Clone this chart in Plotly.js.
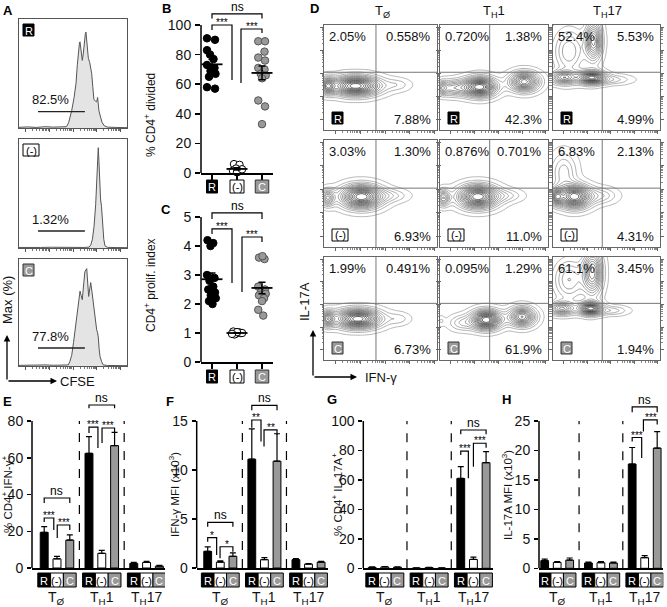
<!DOCTYPE html>
<html><head><meta charset="utf-8">
<script src="https://cdn.plot.ly/plotly-3.0.1.min.js"></script>
<style>html,body{margin:0;padding:0;background:#fff}#chart{width:667px;height:607px}</style>
</head><body><div id="chart"></div>
<script>
// ================= DATA =================
// Panel A: CFSE histograms (x: channel position across plot, y: % of max)
const histR_x = [0,8,16,24,32,40,44,46,48.8,51,52.8,54,54.9,56,56.5,57.5,58.6,59.5,60.5,61.5,62,63,64.2,65.5,66.5,67.3,68.3,69.4,70.5,71.9,72.8,73.2,74,75.5,77,79,82,90,100];
const histR_y = [0.6,1.0,0.5,1.2,0.8,1.0,1.2,5,16,28,41,58,70,78,79,70,62,68,80,87,88,75,64,60,55,50,38,26,25,24,28,20,16,10,5,2,0.8,0.5,0.3];
const histN_x = [0,10,20,30,40,50,60,65,66.5,68,69.5,71,72,72.8,73.4,74,74.8,75.5,76.4,77.5,78.5,79.6,82,90,100];
const histN_y = [0.5,0.8,0.5,0.7,0.5,0.6,0.5,0.8,3,8,20,40,62,82,92,80,56,45,38,20,8,2,0.6,0.4,0.3];
const histC_x = [0,8,16,24,32,40,45.6,47,48.8,50.5,51.9,54,55.5,56.5,57.5,58.6,60,61,62.7,63.7,64.5,65.5,66.4,67.5,68.8,70.3,71.9,72.8,73.4,74.2,75,76.5,78,82,90,100];
const histC_y = [0.6,0.9,0.5,1.0,0.7,0.9,1,4,10,22,34,52,64,70,66,62,78,88,91,80,65,72,78,70,59,45,34,31,27,16,9,4,1,0.5,0.4,0.3];
const histPct = ['82.5%','1.32%','77.8%'];
const condTags = ['R','(-)','C'];

// Panel B: % CD4+ divided (individual points, with horizontal jitter)
const bR = [91,90,83,80,77,73,71,69,67,65,58,57];
const bRoff = [-0.2,0.12,-0.2,-0.08,0.06,-0.2,0.1,-0.06,0.14,-0.12,-0.2,0.12];
const bN = [6,5.5,3,2,1.5,1,0.5,2.5];
const bNoff = [-0.12,0.1,-0.04,0.14,-0.16,0.06,0,0.2];
const bC = [89,89,82,78,76,71,70,67,66,64,49,45,33];
const bCoff = [-0.15,0.12,0.1,-0.15,0.12,-0.15,0.1,-0.05,0.15,0,-0.15,0.12,0];

// Panel C: CD4+ proliferation index
const cR = [4.2,4.1,4.0,3.0,2.9,2.8,2.6,2.5,2.4,2.3,2.2,2.1,2.0];
const cRoff = [-0.18,0.05,-0.06,-0.2,0.1,-0.1,0.05,-0.15,0.12,-0.05,0.15,-0.12,0.02];
const cN = [1.05,1.0,0.98,1.02,0.95,1.0,1.03,0.97];
const cNoff = [-0.15,0.15,-0.05,0.08,-0.1,0.2,0,-0.2];
const cC = [3.6,3.55,3.65,2.6,2.5,2.4,2.35,2.3,2.2,2.1,1.8,1.6];
const cCoff = [-0.12,0.1,0.02,-0.15,0.12,-0.05,0.15,-0.12,0.08,0,-0.15,0.05];

// Panel D: flow contour plots; density blobs [cx, cy, sx, sy, weight]
const dCols = ['T<sub>Ø</sub>','T<sub>H</sub>1','T<sub>H</sub>17'];
const dPctTL = [['2.05%','0.720%','52.4%'],['3.03%','0.876%','6.83%'],['1.99%','0.095%','61.1%']];
const dPctTR = [['0.558%','1.38%','5.53%'],['1.30%','0.701%','2.13%'],['0.491%','1.29%','3.45%']];
const dPctBR = [['7.88%','42.3%','4.99%'],['6.93%','11.0%','4.31%'],['6.73%','61.9%','1.94%']];
const dBlobs = [
  [ [[28,42,14,6,1.0],[3,42,4,5,0.6],[65,43,8,4,0.12]],
    [[37,41,10,6,1.0],[78,46,9,6,0.8],[12,40,10,5,0.4],[2,40,3,4,0.3]],
    [[38,85,5,12,0.7],[36,50,8,4,1.0],[10,50,8,4,0.6],[15,75,10,15,0.35],[55,48,12,3,0.2]] ],
  [ [[33,47,12,7,1.0],[3,46,4,5,0.5],[60,48,10,4,0.15]],
    [[35,47,12,7,1.0],[3,46,4,5,0.5],[62,48,10,4,0.15]],
    [[20,47,10,7,1.0],[3,47,4,5,0.6],[10,70,8,12,0.25],[45,48,10,5,0.2]] ],
  [ [[30,40,13,6,1.0],[3,40,4,5,0.6],[66,40,7,4,0.12]],
    [[43,39,9,6,1.0],[76,42,8,6,0.75],[20,36,8,5,0.2],[1,38,2,3,0.1]],
    [[37,85,6,14,0.7],[35,50,7,4,1.0],[8,50,8,4,0.6],[15,78,10,14,0.35],[55,48,10,3,0.2]] ]
];

// Panels E-H: bar means and SEM, order T0(R,(-),C), TH1(R,(-),C), TH17(R,(-),C)
const eMean = [19.4,5.0,15.2, 62.4,8.0,66.6, 2.5,3.0,1.0];
const eErr  = [3.1,1.3,2.8, 9.1,1.6,7.2, 0.6,0.6,0.4];
const fMean = [1.7,0.6,1.2, 11.1,0.85,10.9, 0.85,0.4,0.6];
const fErr  = [0.45,0.12,0.35, 3.1,0.2,2.8, 0.12,0.06,0.08];
const gMean = [0.6,0.9,0.7, 0.2,0.5,0.15, 61,6,71.7];
const gErr  = [0.3,0.3,0.3, 0.1,0.2,0.1, 8,1.6,7.5];
const hMean = [1.3,1.0,1.4, 0.9,0.95,0.9, 17.7,1.8,20.4];
const hErr  = [0.25,0.15,0.35, 0.15,0.2,0.15, 2.8,0.35,2.8];
const groupLabels = ['T<sub>Ø</sub>','T<sub>H</sub>1','T<sub>H</sub>17'];

// ================= LAYOUT HELPERS =================
const W = 667, H = 607;
const FONT = 'Liberation Sans, Arial, sans-serif';
const traces = [];
const layout = {width:W, height:H, margin:{l:0,r:0,t:0,b:0}, paper_bgcolor:'#fff', plot_bgcolor:'rgba(0,0,0,0)',
  showlegend:false, font:{family:FONT, size:13, color:'#111'}, shapes:[], annotations:[]};
let axN = 0;
function addAxes(xd, yd, xo, yo){
  axN++;
  const s = axN===1 ? '' : String(axN);
  const xid = 'x'+s, yid = 'y'+s;
  layout['xaxis'+s] = Object.assign({domain:[xd[0]/W, xd[1]/W], anchor:yid, showgrid:false, zeroline:false, fixedrange:true, showticklabels:false, ticks:''}, xo);
  layout['yaxis'+s] = Object.assign({domain:[1-yd[1]/H, 1-yd[0]/H], anchor:xid, showgrid:false, zeroline:false, fixedrange:true, showticklabels:false, ticks:''}, yo);
  return {x:xid, y:yid};
}
function pann(px, py, text, o){
  layout.annotations.push(Object.assign({x:px/W, y:1-py/H, xref:'paper', yref:'paper', text:text, showarrow:false,
    font:{size:13, color:'#111', family:FONT}, xanchor:'center', yanchor:'middle'}, o||{}));
}
function prect(x0,y0,x1,y1,fill,lc){
  layout.shapes.push({type:'rect', xref:'paper', yref:'paper', x0:x0/W, x1:x1/W, y0:1-y1/H, y1:1-y0/H, fillcolor:fill, line:{color:lc||'#000', width:1}});
}
const tagFill = ['#000','#fff','#999'], tagText = ['#fff','#000','#fff'], tagLine = ['#000','#000','#333'];
function tag(x0, y0, k){
  const w = k===1 ? 16 : 11, h = 12;
  prect(x0, y0, x0+w, y0+h, tagFill[k], tagLine[k]);
  pann(x0+w/2, y0+h/2+0.5, condTags[k], {font:{size:11, color:tagText[k], family:FONT}});
}
function logTicks(start, width, maxv){
  const maj=[], min=[];
  for(let d=0; d<6; d++) for(let k=1; k<10; k++){
    const v = start + width*(d+Math.log10(k));
    if(v>maxv-0.5 || v<0.5) continue;
    (k===1?maj:min).push(v);
  }
  return {maj, min};
}
function bracket(ax, pts, label, lx, ly){
  layout.shapes.push({type:'path', xref:ax.x, yref:ax.y, path:'M '+pts.map(p=>p[0]+','+p[1]).join(' L '), line:{color:'#000', width:1.2}});
  const star = label !== 'ns';
  layout.annotations.push({xref:ax.x, yref:ax.y, x:lx, y:ly, text:label, showarrow:false, xanchor:'center', yanchor:'bottom',
    yshift: star ? -5 : -2, font:{size: star ? 10 : 12, color:'#000', family:FONT}});
}
function meanSem(a){
  const n=a.length, m=a.reduce((s,v)=>s+v,0)/n;
  const sd=Math.sqrt(a.reduce((s,v)=>s+(v-m)*(v-m),0)/(n-1));
  return [m, sd/Math.sqrt(n)];
}

// ================= PANEL A =================
const aTops=[19,139,259], aBots=[128,248,366];
const aX=[histR_x,histN_x,histC_x], aY=[histR_y,histN_y,histC_y];
const aGate=[15,15.6,16.8];
const aTk = logTicks(6, 22, 100);
for(let i=0;i<3;i++){
  const ax = addAxes([19,127],[aTops[i],aBots[i]],
    {range:[0,100], showline:true, mirror:true, linecolor:'#555', linewidth:1, ticks:'outside', ticklen:3, tickcolor:'#555', tickwidth:1,
     tickvals:aTk.maj, minor:{tickmode:'array', tickvals:aTk.min, ticks:'outside', ticklen:1.5, tickcolor:'#777'}},
    {range:[0,100], showline:true, mirror:true, linecolor:'#555', linewidth:1});
  traces.push({type:'scatter', mode:'lines', x:aX[i], y:aY[i], fill:'tozeroy', fillcolor:'#e4e4e4',
    line:{color:'#555', width:1}, xaxis:ax.x, yaxis:ax.y, hoverinfo:'skip'});
  layout.shapes.push({type:'line', xref:ax.x, yref:ax.y, x0:17.6, x1:61, y0:aGate[i], y1:aGate[i], line:{color:'#222', width:1.3}});
  layout.annotations.push({xref:ax.x, yref:ax.y, x:10, y:aGate[i]+2, text:histPct[i], showarrow:false, xanchor:'left', yanchor:'bottom',
    font:{size:13, color:'#111', family:FONT}});
  tag(23, aTops[i]+5, i);
}
pann(7.5, 10, '<b>A</b>', {font:{size:13, family:FONT, color:'#000'}});
pann(7, 300, 'Max (%)', {textangle:-90, font:{size:13, family:FONT, color:'#111'}});
pann(77, 381, 'CFSE', {font:{size:13, family:FONT, color:'#111'}});
layout.annotations.push({x:7/W, y:1-335/H, xref:'paper', yref:'paper', text:'', showarrow:true, ax:0, ay:46, arrowhead:2, arrowsize:1, arrowwidth:1.3, arrowcolor:'#000'});
layout.annotations.push({x:57/W, y:1-381/H, xref:'paper', yref:'paper', text:'', showarrow:true, ax:-50, ay:0, arrowhead:2, arrowsize:1, arrowwidth:1.3, arrowcolor:'#000'});

// ================= PANELS B, C =================
const ptMarker = [
  {color:'#000', size:7.5, line:{color:'#000', width:1}},
  {color:'#fff', size:7.5, line:{color:'#000', width:1}},
  {color:'#999', size:7.5, line:{color:'#555', width:1}}];
function dotPanel(zeroPx, topPx, topVal, extPx, tickv, groups, offs, boxTop, title, titleY){
  const per = (zeroPx-topPx)/topVal;
  const ax = addAxes([201,273],[extPx, zeroPx],
    {range:[-0.44,2.44], showline:true, linecolor:'#000', linewidth:1.5, ticks:'outside', ticklen:5, tickwidth:1.5, tickcolor:'#000', tickvals:[0,1,2]},
    {range:[0,(zeroPx-extPx)/per], ticks:'outside', ticklen:5, tickwidth:1.5, tickcolor:'#000', tickvals:tickv, showticklabels:true,
     tickfont:{size:14, family:FONT, color:'#111'}, ticklabelstandoff:1});
  layout.shapes.push({type:'line', xref:'paper', yref:ax.y, x0:201/W, x1:201/W, y0:0, y1:topVal, line:{color:'#000', width:1.5}});
  for(let g=0; g<3; g++){
    traces.push({type:'scatter', mode:'markers', x:groups[g].map((v,j)=>g+offs[g][j]), y:groups[g], marker:ptMarker[g],
      xaxis:ax.x, yaxis:ax.y, hoverinfo:'skip', cliponaxis:false});
  }
  for(let g=0; g<3; g++){
    const ms = meanSem(groups[g]);
    traces.push({type:'scatter', mode:'markers', x:[g], y:[ms[0]], marker:{symbol:'line-ew', size:15, line:{width:1.8, color:'#000'}},
      error_y:{type:'data', array:[ms[1]], color:'#000', thickness:1.5, width:3.5}, xaxis:ax.x, yaxis:ax.y, hoverinfo:'skip', cliponaxis:false});
  }
  const hw=[0.22,0.28,0.27];
  for(let g=0; g<3; g++){
    layout.shapes.push({type:'rect', xref:ax.x, yref:'paper', x0:g-hw[g], x1:g+hw[g], y0:1-(boxTop+13)/H, y1:1-boxTop/H,
      fillcolor:tagFill[g], line:{color:tagLine[g], width:1}});
    layout.annotations.push({xref:ax.x, yref:'paper', x:g, y:1-(boxTop+7)/H, text:condTags[g], showarrow:false,
      font:{size:11, color:tagText[g], family:FONT}, xanchor:'center', yanchor:'middle'});
  }
  pann(150, titleY, title, {textangle:-90, font:{size:12, family:FONT, color:'#111'}});
  return ax;
}
const axB = dotPanel(173, 25, 100, 2, [0,20,40,60,80,100], [bR,bN,bC], [bRoff,bNoff,bCoff], 180, '% CD4<sup>+</sup> divided', 115);
bracket(axB, [[0,104.4],[0,107.5],[2,107.5],[2,104.4]], 'ns', 1, 107.5);
bracket(axB, [[0,96.6],[0,100],[0.8,100],[0.8,62.8]], '***', 0.4, 100);
bracket(axB, [[1.16,60.8],[1.16,97.3],[2,97.3],[2,94.6]], '***', 1.58, 97.3);
const axC = dotPanel(362, 217, 5, 198, [0,1,2,3,4,5], [cR,cN,cC], [cRoff,cNoff,cCoff], 370, 'CD4<sup>+</sup> prolif. index', 285);
bracket(axC, [[0,4.93],[0,5.14],[2,5.14],[2,4.93]], 'ns', 1, 5.14);
bracket(axC, [[0,4.41],[0,4.59],[0.8,4.59],[0.8,2.72]], '***', 0.4, 4.59);
bracket(axC, [[1.2,2.41],[1.2,4.31],[2,4.31],[2,4.14]], '***', 1.6, 4.31);
pann(166, 9, '<b>B</b>', {font:{size:13, family:FONT, color:'#000'}});
pann(166, 209, '<b>C</b>', {font:{size:13, family:FONT, color:'#000'}});

// ================= PANEL D =================
const dX = [[324,437],[440,548],[553,660]];
const dY = [[25,130],[140,247],[257,360]];
const dTk = logTicks(10, 22, 100);
const grid = []; for(let i=0;i<=50;i++) grid.push(i*2);
function density(blobs){
  let mx = 0;
  const z = grid.map(yv => grid.map(xv => {
    let v = 0;
    for(const b of blobs){ const dx=(xv-b[0])/b[2], dy=(yv-b[1])/b[3]; v += b[4]*Math.exp(-0.5*(dx*dx+dy*dy)); }
    if(v>mx) mx=v; return v;
  }));
  return z.map(r => r.map(v => v/mx));
}
for(let r=0;r<3;r++) for(let c=0;c<3;c++){
  const [x0,x1] = dX[c], [y0,y1] = dY[r];
  const tickAx = {range:[0,100], showline:true, linecolor:'#666', linewidth:1, ticks:'outside', ticklen:3, tickcolor:'#666',
    tickvals:dTk.maj, minor:{tickmode:'array', tickvals:dTk.min, ticks:'outside', ticklen:1.5, tickcolor:'#888'}};
  const ax = addAxes([x0,x1],[y0,y1], Object.assign({mirror:true}, tickAx), Object.assign({mirror:'allticks'}, tickAx));
  traces.push({type:'contour', x:grid, y:grid, z:density(dBlobs[r][c]), xaxis:ax.x, yaxis:ax.y, showscale:false, hoverinfo:'skip',
    contours:{coloring:'lines', start:0.03, end:0.97, size:0.06}, line:{width:0.7, smoothing:1},
    colorscale:[[0,'#9a9a9a'],[0.5,'#5a5a5a'],[1,'#222']]});
  layout.shapes.push({type:'line', xref:ax.x, yref:ax.y, x0:46, x1:46, y0:0, y1:100, line:{color:'#777', width:1}});
  layout.shapes.push({type:'line', xref:ax.x, yref:ax.y, x0:0, x1:100, y0:55, y1:55, line:{color:'#777', width:1}});
  pann(x0+3, y0+2, dPctTL[r][c], {xanchor:'left', yanchor:'top'});
  pann(x1-4, y0+2, dPctTR[r][c], {xanchor:'right', yanchor:'top'});
  pann(x1-4, y1-1, dPctBR[r][c], {xanchor:'right', yanchor:'bottom'});
  tag(x0+8, y1-18, r);
}
pann(382, 11, dCols[0], {font:{size:13, family:FONT, color:'#111'}});
pann(494, 12, dCols[1], {font:{size:13, family:FONT, color:'#111'}});
pann(607, 12, dCols[2], {font:{size:13, family:FONT, color:'#111'}});
pann(314, 9, '<b>D</b>', {font:{size:13, family:FONT, color:'#000'}});
pann(305, 302, 'IL-17A', {textangle:-90, font:{size:13, family:FONT, color:'#111'}});
pann(381, 377, 'IFN-γ', {font:{size:13, family:FONT, color:'#111'}});
layout.annotations.push({x:313/W, y:1-330/H, xref:'paper', yref:'paper', text:'', showarrow:true, ax:0, ay:47, arrowhead:2, arrowsize:1, arrowwidth:1.3, arrowcolor:'#000'});
layout.annotations.push({x:357/W, y:1-377/H, xref:'paper', yref:'paper', text:'', showarrow:true, ax:-44, ay:0, arrowhead:2, arrowsize:1, arrowwidth:1.3, arrowcolor:'#000'});

// ================= PANELS E-H =================
const barPos = [0,1,2,3.5,4.5,5.5,7,8,9];
const groupBase = [0,3.5,7];
const barFill = ['#000','#fff','#999','#000','#fff','#999','#000','#fff','#999'];
function barPanel(p){
  const per = (p.zeroPx-421)/p.topVal;
  const ax = addAxes(p.xd, [393, p.zeroPx],
    {range:p.rx, showline:true, linecolor:'#000', linewidth:1.5},
    {range:[0,(p.zeroPx-393)/per], ticks:'outside', ticklen:4, tickwidth:1.5, tickcolor:'#000', tickvals:p.ticks, showticklabels:true,
     tickfont:{size:14, family:FONT, color:'#111'}, ticklabelstandoff:1});
  layout.shapes.push({type:'line', xref:'paper', yref:ax.y, x0:p.xd[0]/W, x1:p.xd[0]/W, y0:0, y1:p.topVal, line:{color:'#000', width:1.5}});
  for(const s of [2.75,6.25]) layout.shapes.push({type:'line', xref:ax.x, yref:ax.y, x0:s, x1:s, y0:0, y1:p.topVal, line:{color:'#000', width:1.2, dash:'dash'}});
  traces.push({type:'bar', x:barPos, y:p.mean, width:0.62, marker:{color:barFill, line:{color:'#000', width:1}},
    error_y:{type:'data', array:p.err, arrayminus:p.err.map(()=>0), symmetric:false, color:'#000', thickness:1.2, width:3},
    xaxis:ax.x, yaxis:ax.y, hoverinfo:'skip'});
  for(let g=0; g<3; g++){
    for(let k=0; k<3; k++){
      const xc = groupBase[g]+k;
      layout.shapes.push({type:'rect', xref:ax.x, yref:'paper', x0:xc-0.5, x1:xc+0.5, y0:1-587/H, y1:1-573/H,
        fillcolor:tagFill[k], line:{color:'#000', width:1}});
      layout.annotations.push({xref:ax.x, yref:'paper', x:xc, y:1-580.5/H, text:condTags[k], showarrow:false,
        font:{size:11, color:tagText[k], family:FONT}, xanchor:'center', yanchor:'middle'});
    }
    layout.annotations.push({xref:ax.x, yref:'paper', x:groupBase[g]+1, y:1-598/H, text:groupLabels[g], showarrow:false,
      font:{size:14, color:'#111', family:FONT}, xanchor:'center', yanchor:'middle'});
  }
  pann(p.titleX, 495, p.title, {textangle:-90, font:{size:11.5, family:FONT, color:'#111'}});
  pann(p.lx, p.ly, '<b>'+p.letter+'</b>', {font:{size:13, family:FONT, color:'#000'}});
  return ax;
}
const axE = barPanel({xd:[32,165], rx:[-0.953,9.44], zeroPx:568, topVal:80, ticks:[0,20,40,60,80], mean:eMean, err:eErr,
  title:'% CD4<sup>+</sup> IFN-γ<sup>+</sup>', titleX:7, letter:'E', lx:7, ly:401});
bracket(axE, [[0,35.4],[0,38.1],[2,38.1],[2,35.4]], 'ns', 1, 38.1);
bracket(axE, [[0,25],[0,27.2],[0.75,27.2],[0.75,20.7]], '***', 0.37, 27.2);
bracket(axE, [[1.02,16.3],[1.02,23.4],[2,23.4],[2,20.7]], '***', 1.55, 23.4);
bracket(axE, [[3.5,73.5],[3.5,76.7],[4.2,76.7],[4.2,65.3]], '***', 3.85, 76.7);
bracket(axE, [[4.52,68],[4.52,76.2],[5.5,76.2],[5.5,74]], '***', 5.0, 76.2);
bracket(axE, [[3.5,87],[3.5,88.7],[5.5,88.7],[5.5,87]], 'ns', 4.5, 88.7);

const axF = barPanel({xd:[196.7,328.3], rx:[-0.873,9.57], zeroPx:568, topVal:15, ticks:[0,5,10,15], mean:fMean, err:fErr,
  title:'IFN-γ MFI (x10<sup>3</sup>)', titleX:174, letter:'F', lx:170, ly:401});
bracket(axF, [[0,4.21],[0,4.66],[2,4.66],[2,4.21]], 'ns', 1, 4.66);
bracket(axF, [[0,2.68],[0,3.09],[0.71,3.09],[0.71,1.33]], '*', 0.35, 3.09);
bracket(axF, [[0.98,0.99],[0.98,2.17],[2,2.17],[2,1.66]], '*', 1.5, 2.17);
bracket(axF, [[3.5,14.3],[3.5,15.1],[4.23,15.1],[4.23,12.9]], '**', 3.87, 15.1);
bracket(axF, [[4.47,12.4],[4.47,14.1],[5.5,14.1],[5.5,13.6]], '**', 5.0, 14.1);
bracket(axF, [[3.5,16.1],[3.5,16.6],[5.5,16.6],[5.5,16.1]], 'ns', 4.5, 16.6);

const axG = barPanel({xd:[363.3,493.3], rx:[-0.70,9.57], zeroPx:568.3, topVal:100, ticks:[0,20,40,60,80,100], mean:gMean, err:gErr,
  title:'% CD4<sup>+</sup> IL-17A<sup>+</sup>', titleX:337, letter:'G', lx:332, ly:399});
bracket(axG, [[7,91],[7,93.9],[9,93.9],[9,91]], 'ns', 8, 93.9);
bracket(axG, [[7,76.9],[7,79.6],[7.6,79.6],[7.6,61.1]], '***', 7.3, 79.6);
bracket(axG, [[8,69],[8,84.9],[9,84.9],[9,81.9]], '***', 8.5, 84.9);

const axH = barPanel({xd:[539,663.3], rx:[-0.456,9.49], zeroPx:568.3, topVal:25, ticks:[0,5,10,15,20,25], mean:hMean, err:hErr,
  title:'IL-17A MFI (x10<sup>3</sup>)', titleX:507, letter:'H', lx:507, ly:399});
bracket(axH, [[7,26.5],[7,27.4],[9,27.4],[9,26.5]], 'ns', 8, 27.4);
bracket(axH, [[7,21.5],[7,22.2],[7.76,22.2],[7.76,18.7]], '***', 7.38, 22.2);
bracket(axH, [[7.9,23.2],[7.9,25.2],[9,25.2],[9,24.4]], '***', 8.5, 25.2);

Plotly.newPlot('chart', traces, layout, {staticPlot:true, displayModeBar:false});
</script>
</body></html>
